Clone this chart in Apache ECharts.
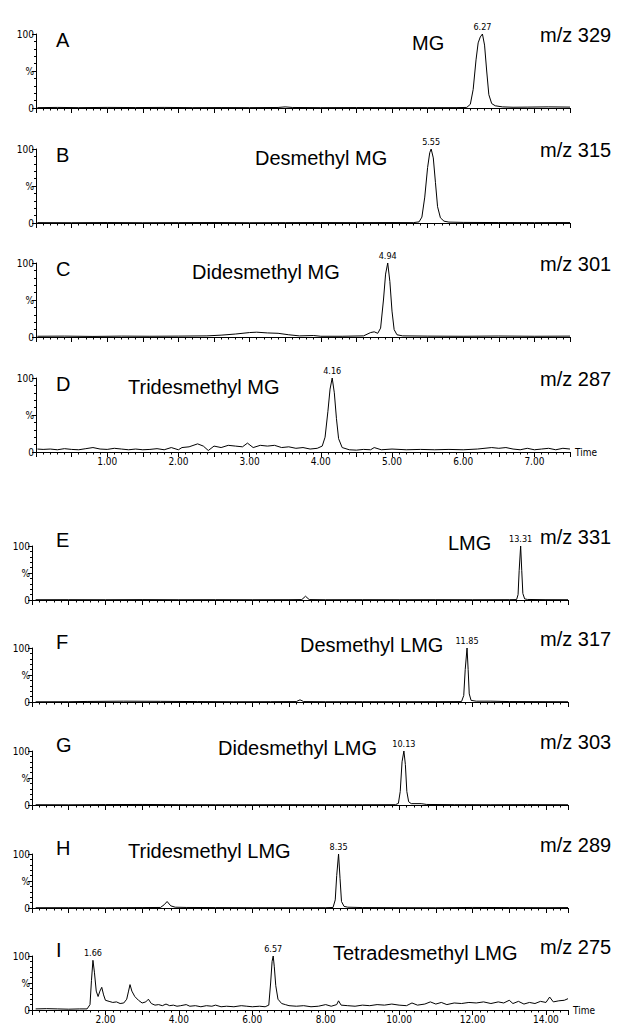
<!DOCTYPE html>
<html>
<head>
<meta charset="utf-8">
<script src="https://cdn.jsdelivr.net/npm/echarts@6/dist/echarts.min.js"></script>
<style>
  html, body { margin: 0; padding: 0; background: #fff; }
  #chart { width: 622px; height: 1032px; }
</style>
</head>
<body>
<div id="chart"></div>
<script>
// panel labels
const panelLetters = ['A', 'B', 'C', 'D', 'E', 'F', 'G', 'H', 'I'];
const compoundNames = ['MG', 'Desmethyl MG', 'Didesmethyl MG', 'Tridesmethyl MG',
  'LMG', 'Desmethyl LMG', 'Didesmethyl LMG', 'Tridesmethyl LMG', 'Tetradesmethyl LMG'];
const mzLabels = ['m/z 329', 'm/z 315', 'm/z 301', 'm/z 287',
  'm/z 331', 'm/z 317', 'm/z 303', 'm/z 289', 'm/z 275'];

// retention time labels [time, apex %]
const peakLabels = [
  [[6.27, 100]], [[5.55, 100]], [[4.94, 100]], [[4.16, 100]],
  [[13.31, 100]], [[11.85, 100]], [[10.13, 100]], [[8.35, 100]], [[1.66, 92], [6.57, 100]]
];

// y tick labels
const yTickLabels = { 0: '0', 50: '%', 100: '100' };

// chromatograms: [time (min), relative intensity %]
const traceA = [[0.02,0.5],[0.3,0.8],[0.6,0.5],[1.0,0.8],[1.4,0.6],[1.8,0.8],[2.2,0.5],[2.6,0.6],[3.0,0.5],[3.4,0.7],[3.5,1.5],[3.6,0.7],[4.0,0.5],[4.5,0.6],[5.0,0.5],[5.5,0.5],[5.9,0.5],[6.05,0.8],[6.1,5],[6.14,25],[6.18,65],[6.21,88],[6.24,96],[6.27,100],[6.3,85],[6.33,50],[6.36,18],[6.4,6],[6.45,3],[6.55,1.5],[6.7,1],[6.9,1.2],[7.2,1.5],[7.5,1.2]];
const traceB = [[0.02,0.5],[0.5,0.4],[1.0,0.6],[1.5,0.4],[2.0,0.5],[2.5,0.6],[3.0,0.4],[3.5,0.5],[4.0,0.6],[4.5,0.5],[5.0,0.6],[5.3,0.5],[5.38,1.5],[5.42,8],[5.46,35],[5.5,75],[5.53,95],[5.55,100],[5.58,88],[5.61,55],[5.64,22],[5.68,7],[5.73,2.5],[5.8,1.2],[6.0,0.8],[6.5,0.6],[7.0,0.5],[7.5,0.6]];
const traceC = [[0.02,1],[0.4,1.2],[0.8,0.8],[1.2,1.2],[1.6,1],[2.0,1.2],[2.4,1.5],[2.6,2.5],[2.8,4],[3.0,6],[3.1,6.5],[3.25,5.5],[3.4,5],[3.55,3],[3.7,1.5],[3.9,2],[4.0,1],[4.3,1],[4.6,1.5],[4.7,6],[4.75,7],[4.8,5],[4.84,12],[4.88,50],[4.91,85],[4.94,100],[4.97,75],[5.0,35],[5.03,10],[5.07,3],[5.15,1.5],[5.5,1.2],[6.0,1],[6.5,1.3],[7.0,1],[7.5,1.2]];
const traceD = [[0.02,4],[0.1,3.5],[0.2,4],[0.3,3],[0.4,4.5],[0.5,3.5],[0.6,3],[0.7,4.5],[0.8,6],[0.9,4],[1.0,3.5],[1.1,5],[1.2,4],[1.3,3],[1.4,4],[1.5,3],[1.6,3.5],[1.7,4.5],[1.8,3],[1.9,6],[2.0,3],[2.05,6],[2.15,7],[2.27,11],[2.35,8],[2.42,2],[2.5,8],[2.6,6],[2.7,9],[2.8,8],[2.9,7],[2.97,12],[3.05,6],[3.15,9],[3.25,8],[3.35,9],[3.45,6],[3.55,7],[3.65,5],[3.75,6],[3.85,4],[3.95,5],[4.02,8],[4.06,20],[4.1,55],[4.13,85],[4.16,100],[4.19,80],[4.22,45],[4.25,18],[4.3,6],[4.4,3],[4.5,2.5],[4.6,3.5],[4.7,3],[4.75,6],[4.85,3],[5.0,4],[5.2,3],[5.4,3.5],[5.6,3],[5.8,3.5],[6.0,3],[6.2,4],[6.4,6],[6.5,5],[6.6,6],[6.7,4],[6.8,3],[6.9,5],[7.0,3],[7.1,4],[7.2,5],[7.3,3],[7.4,5],[7.5,4]];
const traceE = [[0.1,0.5],[1,0.6],[2,0.5],[3,0.7],[4,0.5],[5,0.6],[6,0.5],[7,0.6],[7.35,0.8],[7.45,7],[7.55,0.8],[8,0.5],[9,0.6],[10,0.5],[11,0.6],[12,0.5],[13,0.6],[13.2,0.8],[13.24,10],[13.27,55],[13.31,100],[13.34,55],[13.37,12],[13.42,2],[13.5,1],[14,0.6],[14.6,0.5]];
const traceF = [[0.1,0.4],[1,0.5],[1.5,1],[2.5,1.5],[3.5,1.2],[4.5,0.8],[5.5,0.5],[6.5,0.6],[7.2,0.8],[7.3,4],[7.4,0.8],[8,0.5],[9,0.6],[10,0.5],[11,0.6],[11.7,0.8],[11.76,12],[11.8,60],[11.85,100],[11.88,60],[11.91,15],[11.96,3],[12.1,1.5],[12.5,1.5],[13,0.8],[14,0.6],[14.6,0.5]];
const traceG = [[0.1,0.5],[1,0.4],[2,0.8],[3,1],[4,0.6],[5,0.5],[6,0.5],[7,0.6],[8,0.5],[9,0.5],[9.9,0.6],[9.98,3],[10.03,25],[10.08,80],[10.13,100],[10.17,75],[10.21,25],[10.26,6],[10.33,2.5],[10.6,2.5],[10.75,1],[11.5,0.6],[12.5,0.5],[13.5,0.7],[14.6,0.5]];
const traceH = [[0.1,0.5],[1,0.6],[2,0.5],[3,0.8],[3.5,1],[3.6,6],[3.68,12],[3.78,4],[3.9,1.5],[4.2,1],[5,0.8],[6,0.6],[7,0.5],[8,0.6],[8.2,1],[8.26,15],[8.3,60],[8.35,100],[8.39,55],[8.43,12],[8.5,3],[8.6,1.5],[9,0.8],[10,0.6],[11,0.5],[12,1],[13,0.8],[14,0.6],[14.6,0.8]];
const traceI = [[0.1,2],[0.4,2.5],[0.7,2],[1.0,1.5],[1.3,2],[1.5,2],[1.58,10],[1.62,55],[1.66,92],[1.7,70],[1.75,35],[1.8,25],[1.85,35],[1.9,42],[1.95,28],[2.0,18],[2.1,16],[2.2,14],[2.3,15],[2.4,12],[2.5,13],[2.58,20],[2.63,35],[2.67,47],[2.72,35],[2.8,25],[2.9,18],[3.0,13],[3.1,15],[3.17,20],[3.25,12],[3.35,9],[3.45,10],[3.55,8],[3.65,11],[3.75,8],[3.85,9],[3.95,7],[4.05,8],[4.2,10],[4.3,7],[4.45,8],[4.6,6],[4.75,8],[4.9,7],[5.0,9],[5.15,6],[5.3,7],[5.5,6],[5.7,8],[5.85,7],[6.0,6],[6.2,7],[6.35,6],[6.45,9],[6.5,50],[6.54,90],[6.57,100],[6.6,80],[6.64,45],[6.7,20],[6.8,12],[6.9,10],[7.0,8],[7.2,7],[7.4,8],[7.6,6],[7.8,7],[8.0,10],[8.15,7],[8.3,10],[8.35,17],[8.42,9],[8.6,8],[8.8,7],[9.0,9],[9.2,8],[9.4,10],[9.6,9],[9.8,11],[10.0,9],[10.2,8],[10.35,13],[10.5,9],[10.7,11],[10.85,15],[11.0,11],[11.15,14],[11.3,10],[11.5,13],[11.7,12],[11.9,14],[12.1,13],[12.3,15],[12.5,12],[12.7,15],[12.85,13],[13.0,18],[13.1,12],[13.25,16],[13.4,11],[13.55,14],[13.7,12],[13.85,16],[14.0,14],[14.1,24],[14.2,15],[14.35,17],[14.5,18],[14.6,21]];
const traces = [traceA, traceB, traceC, traceD, traceE, traceF, traceG, traceH, traceI];

// layout (px)
const gridTops = [34, 149, 263, 378, 546, 648, 751, 854, 956];
const nameLefts = [412, 255, 192, 128, 448, 300, 218, 128, 333];

const narrowFont = "'Liberation Sans Narrow', 'DejaVu Sans Condensed', Arial, sans-serif";
const mainFont = "'Liberation Sans', Arial, sans-serif";

const chart = echarts.init(document.getElementById('chart'), null, { renderer: 'svg' });

const grids = [], xAxes = [], yAxes = [], series = [], graphics = [];

traces.forEach((trace, i) => {
  const isTop = i < 4;
  const showTime = i === 3 || i === 8;
  const top = gridTops[i];
  const height = isTop ? 74 : 54;
  grids.push(isTop
    ? { left: 36, width: 534, top: top, height: height }
    : { left: 32, width: 536, top: top, height: height });

  xAxes.push({
    gridIndex: i,
    type: 'value',
    min: 0,
    max: isTop ? 7.5 : 14.6,
    interval: isTop ? 0.5 : 1,
    axisLine: { show: true, onZero: false, lineStyle: { color: '#000', width: 1 } },
    axisTick: { show: true, length: 5, lineStyle: { color: '#000', width: 1 } },
    minorTick: { show: true, splitNumber: 5, length: 2.5, lineStyle: { color: '#000', width: 1 } },
    splitLine: { show: false },
    axisLabel: {
      show: showTime,
      color: '#000',
      fontSize: 10,
      fontFamily: narrowFont,
      margin: 4,
      showMinLabel: true,
      showMaxLabel: true,
      formatter: v => {
        if (isTop) return (Number.isInteger(v) && v > 0) ? v.toFixed(2) : '';
        return (Number.isInteger(v) && v > 0 && v % 2 === 0) ? v.toFixed(2) : '';
      }
    },
    name: showTime ? 'Time' : '',
    nameLocation: 'end',
    nameGap: 5,
    nameTextStyle: { color: '#000', fontSize: 10, fontFamily: narrowFont, verticalAlign: 'middle' }
  });

  yAxes.push({
    gridIndex: i,
    type: 'value',
    min: 0,
    max: 100,
    interval: 50,
    axisLine: { show: true, lineStyle: { color: '#000', width: 1 } },
    axisTick: { show: true, length: 4, lineStyle: { color: '#000', width: 1 } },
    minorTick: { show: true, splitNumber: 5, length: 2, lineStyle: { color: '#000', width: 1 } },
    splitLine: { show: false },
    axisLabel: {
      color: '#000',
      fontSize: 10,
      fontFamily: narrowFont,
      margin: 2,
      formatter: v => yTickLabels[v]
    }
  });

  series.push({
    type: 'line',
    xAxisIndex: i,
    yAxisIndex: i,
    data: trace,
    symbol: 'none',
    lineStyle: { color: '#000', width: 1 },
    silent: true,
    markPoint: {
      symbol: 'circle',
      symbolSize: 0,
      label: {
        show: true,
        position: 'top',
        distance: 3,
        color: '#000',
        fontSize: 9,
        fontFamily: narrowFont,
        formatter: p => p.data.coord[0].toFixed(2)
      },
      data: peakLabels[i].map(p => ({ coord: p }))
    }
  });

  // panel texts
  const letterDy = isTop ? 6 : -6;
  const nameDy = isTop ? 9 : -3;
  const mzDy = isTop ? 1 : -9;
  graphics.push(
    { type: 'text', x: 56, y: top + letterDy,
      style: { text: panelLetters[i], fontSize: 20, fontFamily: mainFont, fill: '#000', verticalAlign: 'middle' } },
    { type: 'text', x: nameLefts[i], y: top + nameDy,
      style: { text: compoundNames[i], fontSize: 20, fontFamily: mainFont, fill: '#000', verticalAlign: 'middle' } },
    { type: 'text', x: 540, y: top + mzDy,
      style: { text: mzLabels[i], fontSize: 20, fontFamily: mainFont, fill: '#000', verticalAlign: 'middle' } }
  );
});

chart.setOption({
  animation: false,
  backgroundColor: '#fff',
  grid: grids,
  xAxis: xAxes,
  yAxis: yAxes,
  series: series,
  graphic: graphics
});
</script>
</body>
</html>
